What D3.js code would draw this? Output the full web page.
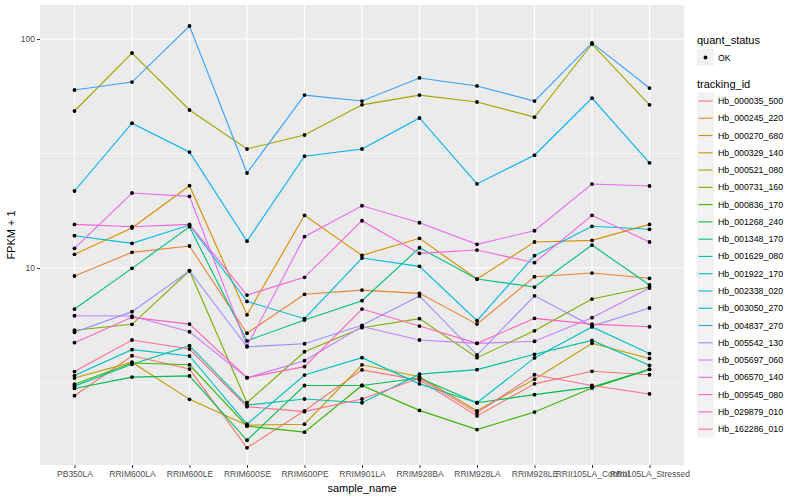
<!DOCTYPE html>
<html>
<head>
<meta charset="utf-8">
<script src="https://cdn.jsdelivr.net/npm/d3@7"></script>
<style>
  body { margin: 0; background: #fff; }
  text { font-family: "Liberation Sans", Arial, sans-serif; }
</style>
</head>
<body>
<svg id="chart" width="800" height="500"></svg>
<script>
// samples on the x axis
const samples = ["PB350LA", "RRIM600LA", "RRIM600LE", "RRIM600SE", "RRIM600PE", "RRIM901LA",
  "RRIM928BA", "RRIM928LA", "RRIM928LE", "RRII105LA_Control", "RRII105LA_Stressed"];

// FPKM + 1, one array per tracking_id (same order as samples)
const hb_000035_500 = [2.77, 4.14, 3.62, 1.64, 2.38, 3.59, 3.24, 2.26, 3.12, 3.54, 3.42];
const hb_000245_220 = [9.23, 11.71, 12.48, 5.19, 7.68, 8.01, 7.75, 5.69, 9.16, 9.51, 9.02];
const hb_000270_680 = [11.48, 14.95, 22.88, 6.25, 16.99, 11.36, 13.48, 8.95, 12.99, 13.21, 15.51];
const hb_000329_140 = [3.31, 3.88, 2.67, 2.06, 2.08, 3.78, 3.35, 2.38, 3.27, 4.69, 4.03];
const hb_000521_080 = [48.5, 86.9, 49.0, 33.1, 38.1, 51.6, 56.9, 53.1, 45.6, 95.1, 51.6];
const hb_000731_160 = [5.35, 5.68, 9.73, 2.58, 4.31, 5.49, 6.01, 4.06, 5.32, 7.32, 8.26];
const hb_000836_170 = [3.11, 3.85, 3.78, 2.04, 1.92, 3.07, 2.39, 1.97, 2.35, 2.99, 3.61];
const hb_001268_240 = [2.98, 3.34, 3.38, 1.77, 3.07, 3.07, 3.31, 2.58, 2.80, 3.02, 3.61];
const hb_001348_170 = [6.62, 9.97, 15.15, 4.81, 5.93, 7.20, 12.26, 8.95, 8.26, 12.60, 8.43];
const hb_001629_080 = [3.05, 3.80, 4.58, 2.52, 2.68, 2.58, 3.44, 3.60, 4.20, 4.83, 3.76];
const hb_001922_170 = [3.39, 4.40, 4.13, 2.08, 3.41, 4.06, 3.12, 2.58, 4.05, 5.53, 4.23];
const hb_002338_020 = [13.84, 12.82, 15.41, 7.15, 6.01, 11.06, 10.17, 5.89, 11.32, 15.21, 14.76];
const hb_003050_270 = [21.7, 42.9, 32.1, 13.1, 30.8, 33.1, 45.2, 23.3, 31.1, 55.2, 28.8];
const hb_004837_270 = [59.9, 64.9, 114, 26.0, 56.9, 53.6, 67.6, 62.4, 53.6, 96.2, 61.1];
const hb_005542_130 = [5.24, 6.45, 9.73, 4.53, 4.67, 5.62, 7.55, 4.17, 7.56, 5.58, 6.69];
const hb_005697_060 = [6.19, 6.17, 5.27, 3.32, 3.94, 5.55, 4.85, 4.69, 4.79, 6.07, 8.18];
const hb_006570_140 = [12.19, 21.26, 20.56, 4.56, 13.70, 18.71, 15.77, 12.69, 14.55, 23.27, 22.81];
const hb_009545_080 = [15.51, 15.15, 15.51, 7.62, 9.11, 16.09, 11.59, 11.98, 10.55, 16.99, 12.99];
const hb_029879_010 = [4.72, 6.09, 5.69, 3.32, 3.71, 6.62, 5.58, 4.69, 6.03, 5.69, 5.54];
const hb_162286_010 = [3.53, 4.85, 4.43, 2.48, 2.36, 2.68, 3.31, 2.33, 3.42, 3.07, 2.82];

const trackingIds = ["Hb_000035_500", "Hb_000245_220", "Hb_000270_680", "Hb_000329_140", "Hb_000521_080",
  "Hb_000731_160", "Hb_000836_170", "Hb_001268_240", "Hb_001348_170", "Hb_001629_080",
  "Hb_001922_170", "Hb_002338_020", "Hb_003050_270", "Hb_004837_270", "Hb_005542_130",
  "Hb_005697_060", "Hb_006570_140", "Hb_009545_080", "Hb_029879_010", "Hb_162286_010"];
const seriesValues = [hb_000035_500, hb_000245_220, hb_000270_680, hb_000329_140, hb_000521_080,
  hb_000731_160, hb_000836_170, hb_001268_240, hb_001348_170, hb_001629_080,
  hb_001922_170, hb_002338_020, hb_003050_270, hb_004837_270, hb_005542_130,
  hb_005697_060, hb_006570_140, hb_009545_080, hb_029879_010, hb_162286_010];

const yTicks = [10, 100];
const yMinor = [Math.pow(10, 0.5), Math.pow(10, 1.5)];

// ggplot default hue palette for 20 levels
const colors = ["#F8766D", "#EA8331", "#D89000", "#C09B00", "#A3A500", "#7CAE00", "#39B600", "#00BB4E",
  "#00BF7D", "#00C1A3", "#00BFC4", "#00BAE0", "#00B0F6", "#35A2FF", "#9590FF", "#C77CFF",
  "#E76BF3", "#FA62DB", "#FF62BC", "#FF6C91"];

const svg = d3.select("#chart");
const pLeft = 40, pRight = 684, pTop = 5, pBottom = 465;

const x = d3.scalePoint().domain(samples).range([pLeft, pRight]).padding(0.6);
const y = d3.scaleLog().domain([1.38, 140.8]).range([pBottom, pTop]);
const color = d3.scaleOrdinal().domain(trackingIds).range(colors);

// panel
svg.append("rect").attr("x", pLeft).attr("y", pTop)
  .attr("width", pRight - pLeft).attr("height", pBottom - pTop).attr("fill", "#EBEBEB");

svg.append("g").selectAll("line").data(yMinor).enter().append("line")
  .attr("x1", pLeft).attr("x2", pRight)
  .attr("y1", d => y(d)).attr("y2", d => y(d))
  .attr("stroke", "#fff").attr("stroke-width", 0.55);

svg.append("g").selectAll("line").data(yTicks).enter().append("line")
  .attr("x1", pLeft).attr("x2", pRight)
  .attr("y1", d => y(d)).attr("y2", d => y(d))
  .attr("stroke", "#fff").attr("stroke-width", 1.1);

svg.append("g").selectAll("line").data(samples).enter().append("line")
  .attr("x1", d => x(d)).attr("x2", d => x(d))
  .attr("y1", pTop).attr("y2", pBottom)
  .attr("stroke", "#fff").attr("stroke-width", 1.1);

// axes
const yAxis = svg.append("g").attr("transform", "translate(" + pLeft + ",0)")
  .call(d3.axisLeft(y).tickValues(yTicks).tickFormat(d3.format("d")).tickSize(3).tickPadding(2));
const xAxis = svg.append("g").attr("transform", "translate(0," + pBottom + ")")
  .call(d3.axisBottom(x).tickSize(3).tickPadding(3));
[yAxis, xAxis].forEach(a => {
  a.select(".domain").remove();
  a.selectAll(".tick line").attr("stroke", "#333").attr("stroke-width", 1);
  a.selectAll(".tick text").attr("fill", "#4D4D4D").attr("font-size", "8.5px")
    .style("font-family", "'Liberation Sans', Arial, sans-serif");
});

svg.append("text").attr("x", pLeft + (pRight - pLeft) / 2).attr("y", 492)
  .attr("text-anchor", "middle").attr("font-size", "11px").attr("fill", "#000").text("sample_name");
svg.append("text").attr("transform", "translate(15," + (pTop + pBottom) / 2 + ") rotate(-90)")
  .attr("text-anchor", "middle").attr("font-size", "11px").attr("fill", "#000").text("FPKM + 1");

// lines
const line = d3.line().x((d, i) => x(samples[i])).y(d => y(d));
const series = trackingIds.map((id, k) => ({ id: id, values: seriesValues[k] }));

svg.append("g").selectAll("path").data(series).enter().append("path")
  .attr("d", d => line(d.values))
  .attr("fill", "none")
  .attr("stroke", d => color(d.id))
  .attr("stroke-width", 1.1);

// points
const pts = [];
series.forEach(s => s.values.forEach((v, i) => pts.push({ sample: samples[i], v: v })));
svg.append("g").selectAll("circle").data(pts).enter().append("circle")
  .attr("cx", d => x(d.sample)).attr("cy", d => y(d.v)).attr("r", 1.9).attr("fill", "#000");

// legends
const lg = svg.append("g").attr("transform", "translate(697,0)");
lg.append("text").attr("x", 0).attr("y", 43.5).attr("font-size", "11px").text("quant_status");
lg.append("rect").attr("x", 0).attr("y", 49).attr("width", 17).attr("height", 17).attr("fill", "#F2F2F2");
lg.append("circle").attr("cx", 8.5).attr("cy", 57.5).attr("r", 1.9).attr("fill", "#000");
lg.append("text").attr("x", 21).attr("y", 60.5).attr("font-size", "8.8px").text("OK");

lg.append("text").attr("x", 0).attr("y", 87.5).attr("font-size", "11px").text("tracking_id");
const step = 17.27;
const items = lg.selectAll(".item").data(trackingIds).enter().append("g")
  .attr("transform", (d, i) => "translate(0," + (92.5 + i * step) + ")");
items.append("rect").attr("width", 17).attr("height", 17).attr("fill", "#F2F2F2");
items.append("line").attr("x1", 1.5).attr("x2", 15.5).attr("y1", 8.5).attr("y2", 8.5)
  .attr("stroke", d => color(d)).attr("stroke-width", 1.1);
items.append("text").attr("x", 21).attr("y", 11.5).attr("font-size", "8.8px").text(d => d);
</script>
</body>
</html>
